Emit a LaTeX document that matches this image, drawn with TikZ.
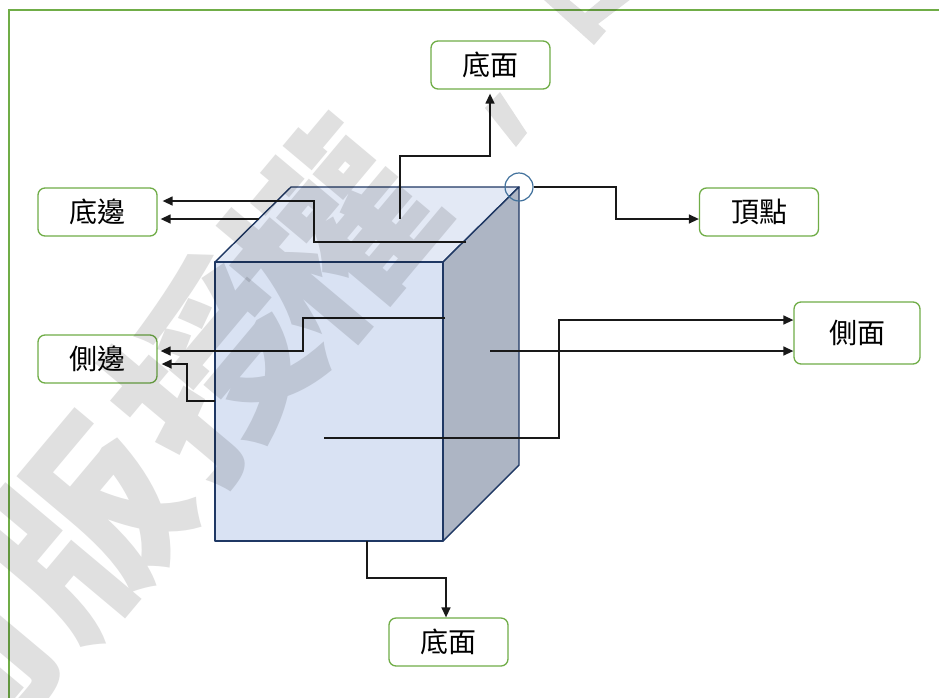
\documentclass[tikz,border=0pt]{standalone}
\usepackage{fontspec}
\usetikzlibrary{arrows.meta}
\setmainfont{Noto Sans CJK TC}
\newfontfamily\wmfont{Noto Sans CJK TC}
\definecolor{framegreen}{HTML}{70AD47}
\definecolor{navy}{HTML}{1F3864}
\definecolor{frontc}{HTML}{D9E2F3}
\definecolor{topc}{HTML}{E3E9F5}
\definecolor{sidec}{HTML}{ADB5C4}
\definecolor{ringc}{HTML}{41719C}
\definecolor{wmgray}{HTML}{E0E0E0}
\tikzset{
  labelbox/.style={draw=framegreen,line width=1.3pt,rounded corners=7pt,fill=white,minimum width=119pt,minimum height=48pt,inner sep=0pt,font=\fontsize{28}{28}\selectfont,text=black},
  face/.style={draw=navy,line width=1.4pt,line join=round},
  conn/.style={draw=black!90,line width=1.4pt,-{Triangle[length=10pt,width=9pt]}},
  wmark/.style={font=\wmfont\bfseries\fontsize{196}{196}\selectfont,text=wmgray,rotate=50,inner sep=0pt}
}
\begin{document}
\begin{tikzpicture}[x=1pt,y=-1pt]
\useasboundingbox (0,0) rectangle (939,697);
\fill[white] (0,0) rectangle (939,697);
\draw[framegreen,line width=1.3pt] (9,700) -- (9,10) -- (942,10);
% cube corners
\coordinate (fa) at (215,262);
\coordinate (fb) at (443,262);
\coordinate (fc) at (443,541);
\coordinate (fd) at (215,541);
\coordinate (ta) at (291,187);
\coordinate (tb) at (519,187);
\coordinate (tc) at (519,465);
\path[face,fill=topc] (fa) -- (ta) -- (tb) -- (fb) -- cycle;
\path[face,fill=sidec] (fb) -- (tb) -- (tc) -- (fc) -- cycle;
\path[face,fill=frontc] (fa) -- (fb) -- (fc) -- (fd) -- cycle;
\node[circle,draw=ringc,line width=1.2pt,minimum size=28pt,inner sep=0pt] (vtx) at (tb) {};
% label boxes
\node[labelbox] (bfacetop) at (490.5,65) {\raisebox{-1pt}{底面}};
\node[labelbox] (bedge) at (97.5,212) {\raisebox{-1pt}{底邊}};
\node[labelbox] (sedge) at (97.5,359) {\raisebox{-1pt}{側邊}};
\node[labelbox] (vertex) at (759,212) {\raisebox{-1pt}{頂點}};
\node[labelbox,minimum width=126pt,minimum height=62pt] (sface) at (857,333) {\raisebox{-1pt}{側面}};
\node[labelbox] (bfacebot) at (448.5,642) {\raisebox{-1pt}{底面}};
% free ends of connectors
\coordinate (s1) at (400,219);
\coordinate (s2) at (466,242);
\coordinate (s3) at (259,219);
\coordinate (s4) at (445,318);
\coordinate (s5) at (215,401);
\coordinate (s6) at (324,438);
\coordinate (s7) at (490,351);
\coordinate (s8) at (367,541);
% connectors
\draw[conn,shorten >=4pt] (s1) -- (400,156) -- (490,156) -- (bfacetop.south -| 490,0);
\draw[conn,shorten >=5pt] (s2) -- (314,242) -- (314,201) -- (bedge.east |- 0,201);
\draw[conn,shorten >=3pt] (s3) -- (bedge.east |- s3);
\draw[conn,shorten >=3pt] (s4) -- (303,318) -- (303,351) -- (sedge.east |- 0,351);
\draw[conn,shorten >=4pt] (s5) -- (187,401) -- (187,364) -- (sedge.east |- 0,364);
\draw[conn] (vtx.east) -- (616,187) -- (616,219) -- (vertex.west |- 0,219);
\draw[conn] (s6) -- (559,438) -- (559,320) -- (sface.west |- 0,320);
\draw[conn] (s7) -- (sface.west |- s7);
\draw[conn] (s8) -- (367,578) -- (446,578) -- (bfacebot.north -| 446,0);
% watermark, multiplied over everything
\begin{scope}[blend mode=multiply]
\node[wmark] (wm1) at (-50,680) {周};
\node[wmark] (wm2) at (85,527) {版};
\node[wmark] (wm3) at (214,368) {授};
\node[wmark] (wm4) at (331,234) {權};
\fill[wmgray] (485,108) -- (500,92) -- (527,133) -- (516,147) -- cycle;
\fill[wmgray] (543,-1) -- (594,45) -- (606,31) -- (598,24) -- (631,-1) -- (602,-1) -- (585,13) -- (568,-1) -- cycle;
\end{scope}
\end{tikzpicture}
\end{document}
